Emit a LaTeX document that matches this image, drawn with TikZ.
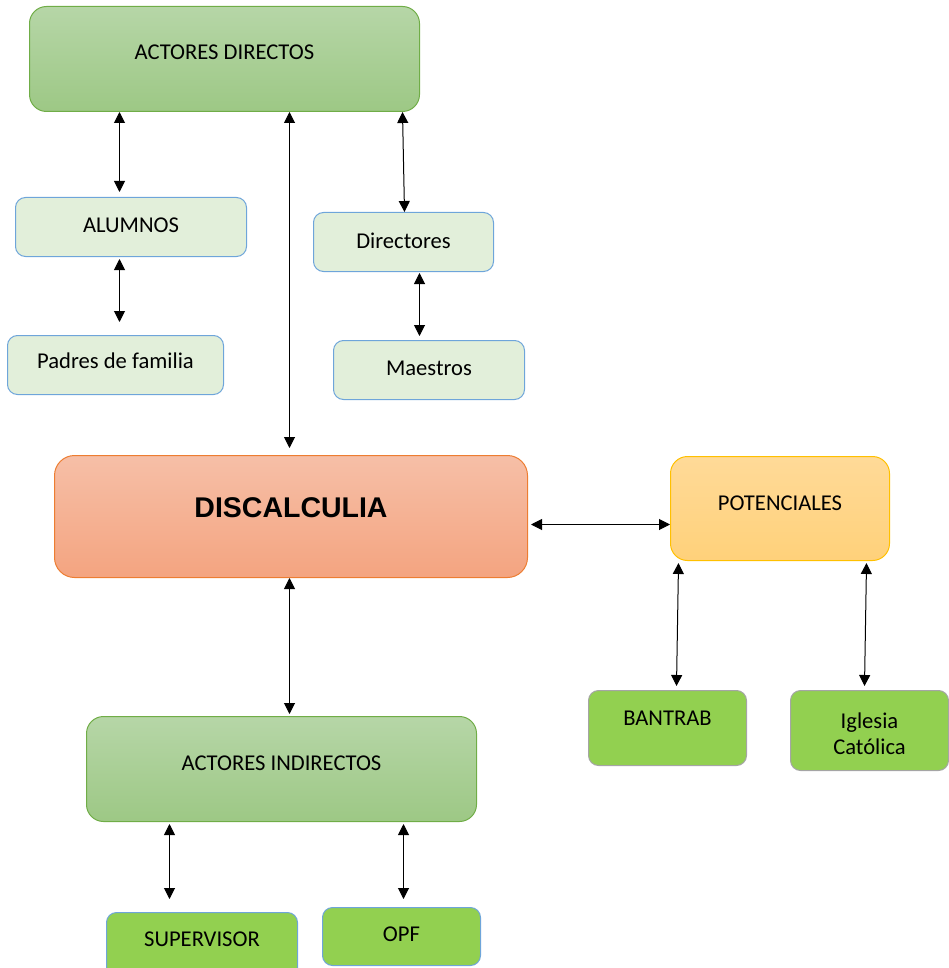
\documentclass[tikz,border=0pt]{standalone}
\usepackage{fontspec}
\setmainfont{Carlito}
\newfontfamily\arialfont{Liberation Sans}
\usetikzlibrary{arrows.meta}
\definecolor{gtop}{RGB}{182,214,167}
\definecolor{gbot}{RGB}{157,200,133}
\definecolor{gline}{RGB}{112,173,71}
\definecolor{lfill}{RGB}{226,239,218}
\definecolor{bline}{RGB}{110,165,218}
\definecolor{otop}{RGB}{246,191,167}
\definecolor{obot}{RGB}{244,164,128}
\definecolor{oline}{RGB}{237,125,49}
\definecolor{ytop}{RGB}{255,218,152}
\definecolor{ybot}{RGB}{255,209,122}
\definecolor{yline}{RGB}{255,192,0}
\definecolor{bgreen}{RGB}{146,208,80}
\definecolor{grayline}{RGB}{165,165,165}
\begin{document}
\begin{tikzpicture}[x=1pt,y=-1pt,
  box/.style={anchor=north west, inner sep=0pt, line width=1pt, font=\fontsize{22.6}{26}\selectfont},
  bx/.style n args={3}{minimum width=#1, text height=#2, text depth=#3},
  dgreen/.style={box, top color=gtop, bottom color=gbot, draw=gline, rounded corners=17pt},
  lgreen/.style={box, fill=lfill, draw=bline, rounded corners=10pt},
  sgreen/.style={box, fill=bgreen, draw=grayline, rounded corners=10pt},
  bgreenb/.style={box, fill=bgreen, draw=bline, rounded corners=10pt},
  arr/.style={line width=1pt, {Triangle[length=11pt,width=11pt]}-{Triangle[length=11pt,width=11pt]}}
]
\useasboundingbox (0,0) rectangle (949,968);
\clip (0,0) rectangle (949,968);

\node[dgreen, bx={390pt}{53pt}{52pt}] (ad) at (29,6) {ACTORES DIRECTOS};
\node[lgreen, bx={231pt}{35pt}{24pt}] (al) at (15,197) {ALUMNOS};
\node[lgreen, bx={216pt}{33pt}{26pt}] (pf) at (7,335) {Padres de familia};
\node[lgreen, bx={180pt}{36pt}{23pt}] (di) at (313,212) {Directores};
\node[lgreen, bx={191pt}{35pt}{24pt}] (ma) at (333,340) {Maestros};
\node[box, bx={473pt}{62pt}{60pt}, top color=otop, bottom color=obot, draw=oline, rounded corners=20pt, font=\arialfont\bfseries\fontsize{28.5}{32}\selectfont] (dc) at (54,455) {DISCALCULIA};
\node[box, bx={219pt}{54pt}{50pt}, top color=ytop, bottom color=ybot, draw=yline, rounded corners=17pt] (po) at (670,456) {POTENCIALES};
\node[sgreen, bx={158pt}{35pt}{40pt}] (bt) at (588,690) {BANTRAB};
\node[sgreen, minimum width=158pt, minimum height=80pt, align=center] (ig) at (790,690) {\rule{0pt}{22pt}Iglesia\\Católica};
\node[dgreen, bx={390pt}{54pt}{51pt}] (ai) at (86,716) {ACTORES INDIRECTOS};
\node[bgreenb, bx={191pt}{34pt}{40pt}] (su) at (106,912) {SUPERVISOR};
\node[bgreenb, bx={158pt}{34pt}{24pt}] (op) at (322,907) {OPF};

\draw[arr] ([xshift=-105pt]ad.south) -- ([xshift=-11.5pt,yshift=5pt]al.north);
\draw[arr] ([xshift=65pt]ad.south) -- ([xshift=-1.5pt,yshift=7pt]dc.north);
\draw[arr] ([xshift=178pt]ad.south) -- ([xshift=1pt]di.north);
\draw[arr] ([xshift=-11.5pt,yshift=-2pt]al.south) -- ([xshift=4pt,yshift=13pt]pf.north);
\draw[arr] ([xshift=16pt,yshift=-1pt]di.south) -- ([xshift=-9.5pt,yshift=4pt]ma.north);
\draw[arr] ([xshift=-1.5pt]dc.south) -- ([xshift=8pt,yshift=2pt]ai.north);
\draw[arr] ([xshift=3pt,yshift=-8pt]dc.east) -- ([yshift=-16pt]po.west);
\draw[arr] ([xshift=-101.5pt,yshift=-2pt]po.south) -- ([xshift=9pt,yshift=4pt]bt.north);
\draw[arr] ([xshift=86.5pt,yshift=-2pt]po.south) -- ([xshift=-5pt,yshift=4pt]ig.north);
\draw[arr] ([xshift=-112pt,yshift=-2pt]ai.south) -- ([xshift=-32.5pt,yshift=13pt]su.north);
\draw[arr] ([xshift=122pt,yshift=-2pt]ai.south) -- ([xshift=2pt,yshift=8pt]op.north);
\end{tikzpicture}
\end{document}
